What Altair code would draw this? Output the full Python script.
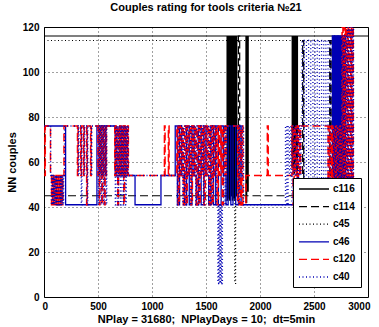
import altair as alt
import pandas as pd

# ---- data: (NPlay index, NN couple) change points, step-after ----
c116 = [(0,116),(1695,43),(1701,116),(1707,44),(1713,116),(1719,43),(1725,116),(1731,45),
        (1737,116),(1743,43),(1749,116),(1755,44),(1761,116),(1767,43),(1773,116),(1779,45),
        (1785,116),(1870,42),(1877,116),(1884,47),(1891,116),(2298,58),(2305,116),(2312,55),
        (2319,116),(2326,60),(2333,116),(2340,56),(2347,116),(3000,116)]

c114 = [(0,45),(1800,116),(1812,45),(2395,114),(2405,45),(2645,114),(2655,45),(2668,114),
        (2678,45),(2880,45)]

c45 = [(0,114),(1766,6),(1774,114),(2880,114)]

c46 = [(0,76),(200,41),(490,76),(660,54),(700,76),(715,54),(735,76),(750,54),(843,41),(1083,54),
       (1215,76),(1235,41),(1255,76),(1275,54),(1300,41),(1320,76),(1345,41),(1370,76),(1390,54),
       (1410,41),(1430,76),(1455,41),(1480,76),(1500,54),(1525,41),(1545,76),(1570,41),(1590,76),
       (1615,41),(1640,76),(1660,54),(1685,41),(1705,76),(1730,41),(1750,76),(1775,41),(1800,76),
       (1825,41),(1850,41),(2670,116),(2677,50),(2684,116),(2691,45),(2698,116),(2705,48),(2712,116),
       (2719,45),(2726,116),(2733,50),(2740,116),(2747,46),(2754,116),(2761,45),(2768,116),(2775,48),
       (2782,116),(2790,45),(2880,45)]

c120 = [(0,76),(8,54),(12,76),(60,54),(70,41),(78,54),(86,41),(94,54),(102,41),(110,54),(118,41),
        (126,54),(134,41),(142,54),(150,41),(158,54),(166,41),(174,54),(185,76),
        (310,54),(316,76),(340,54),(346,76),(366,54),(372,76),(395,41),(401,76),(432,54),(438,76),
        (500,54),(506,76),(512,41),(518,76),(524,54),(530,76),(536,41),(542,76),(548,54),(554,76),
        (560,41),(566,76),(572,54),(578,76),
        (655,54),(662,76),(669,54),(676,76),(683,41),(690,76),(697,54),(704,76),(711,54),(718,76),
        (725,54),(732,76),(739,41),(746,76),(753,54),(760,76),(767,54),(774,76),(781,54),
        (1115,76),(1121,54),(1152,76),(1158,54),
        (1230,76),(1242,41),(1254,76),(1266,54),(1278,76),(1290,41),(1302,76),(1314,41),(1326,76),
        (1338,54),(1350,76),(1362,41),(1374,76),(1386,54),(1398,76),(1410,41),(1422,76),(1434,41),
        (1446,76),(1458,54),(1470,76),(1482,41),(1494,76),(1506,54),(1518,76),(1530,41),(1542,76),
        (1554,41),(1566,76),(1578,54),(1590,76),(1602,41),(1614,76),(1626,54),(1638,76),(1650,41),
        (1662,76),(1674,54),(1686,76),
        (1794,41),(1806,76),(1818,41),(1830,76),(1842,41),(1870,54),(2068,76),(2076,54),
        (2296,76),(2306,41),(2316,76),(2326,54),(2336,76),(2346,41),(2356,76),(2366,54),(2376,76),
        (2630,41),(2640,76),(2650,45),(2660,76),(2670,41),(2680,76),(2690,45),(2700,76),(2710,41),
        (2720,76),(2730,45),(2740,76),(2750,41),(2760,120),(2768,45),(2776,120),(2784,50),(2792,120),
        (2800,45),(2808,120),(2816,41),(2824,120),(2832,45),(2840,120),(2848,41),(2856,120),(2864,45),
        (2880,45)]

c40 = [(0,76),(62,54),(68,41),(74,54),(80,41),(86,54),(92,41),(98,54),(104,41),(110,54),(116,41),
       (122,54),(128,41),(134,54),(140,41),(146,54),(152,41),(158,54),(164,41),(170,54),(176,41),
       (182,54),(190,76),
       (318,54),(324,76),(345,41),(351,76),(372,54),(378,76),(400,41),(406,76),(437,54),(443,76),
       (503,41),(509,76),(515,54),(521,76),(527,41),(533,76),(539,54),(545,76),(551,41),(557,76),
       (563,54),(569,76),(575,41),(581,76),
       (660,41),(666,76),(672,54),(678,76),(684,41),(690,76),(696,54),(702,76),(708,41),(714,76),
       (720,54),(726,76),(732,41),(738,76),(744,54),(750,76),(756,41),(762,76),(768,54),(774,76),
       (780,54),
       (1236,41),(1248,76),(1260,54),(1272,76),(1284,41),(1296,76),(1308,41),(1320,76),(1332,54),
       (1344,76),(1356,41),(1368,76),(1380,54),(1392,76),(1404,41),(1416,76),(1428,41),(1440,76),
       (1452,54),(1464,76),(1476,41),(1488,76),(1500,54),(1512,76),(1524,41),(1536,76),(1548,41),
       (1560,76),(1572,54),(1584,76),(1596,41),
       (1610,6),(1616,41),(1622,6),(1628,41),(1634,6),(1640,41),(1646,6),(1652,41),(1664,76),
       (1676,41),(1688,76),
       (1800,41),(1812,76),(1824,54),(1836,76),(1848,41),
       (2236,76),(2248,41),(2260,76),(2272,54),(2284,76),(2296,41),(2308,76),(2320,54),(2332,76),
       (2344,41),(2356,76),(2368,54),(2380,76),
       (2390,114),(2410,45),(2430,114),(2450,45),(2470,114),(2490,45),(2510,114),(2530,45),
       (2550,114),(2570,45),(2590,114),(2610,45),(2630,114),(2650,45),
       (2680,116),(2688,45),(2696,116),(2704,45),(2710,5),(2716,116),(2722,45),(2730,116),(2738,45),
       (2746,116),(2754,45),(2762,116),(2770,45),(2778,116),(2786,45),(2794,116),(2802,45),
       (2810,120),(2818,45),(2826,120),(2834,41),(2842,120),(2850,41),(2858,120),(2866,45),(2880,45)]

names = ["c116", "c114", "c45", "c46", "c120", "c40"]
series = [c116, c114, c45, c46, c120, c40]
colors = ["#000000", "#000000", "#000000", "#0000b4", "#ff0000", "#0000b4"]
dashes = [[1, 0], [8, 4], [1, 2.5], [1, 0], [8, 4], [1, 2.5]]
widths = [1.2, 1.2, 1.2, 1.3, 1.5, 1.3]
x_ticks = [0, 500, 1000, 1500, 2000, 2500, 3000]
y_ticks = [0, 20, 40, 60, 80, 100, 120]

rows = []
for name, pts in zip(names, series):
    for i, (x, y) in enumerate(pts):
        rows.append({"series": name, "x": x, "y": y, "i": i})
df = pd.DataFrame(rows)

FONT = "Liberation Sans"
color_scale = alt.Scale(domain=names, range=colors)
dash_scale = alt.Scale(domain=names, range=dashes)

legend = alt.Legend(
    title=None, orient="none", legendX=249, legendY=151,
    fillColor="white", strokeColor="black", padding=5, cornerRadius=0,
    symbolType="M-1,0H5", symbolSize=100, symbolStrokeWidth=1.3,
    labelFont=FONT, labelFontSize=10, labelFontWeight="bold", labelColor="black",
    labelOffset=23, rowPadding=6.6,
)

layers = []
for name, w in zip(names, widths):
    layers.append(
        alt.Chart(df)
        .transform_filter(alt.datum.series == name)
        .mark_line(interpolate="step-after", strokeWidth=w, clip=True)
        .encode(
            x=alt.X("x:Q", scale=alt.Scale(domain=[0, 3000], nice=False),
                    axis=alt.Axis(values=x_ticks, format="d",
                                  title="NPlay = 31680;\u00a0 NPlayDays = 10;\u00a0 dt=5min",
                                  titleFontSize=11,
                                  labelFlush=True, labelFlushOffset=2,
                                  labelOverlap=False, titlePadding=2, labelPadding=4)),
            y=alt.Y("y:Q", scale=alt.Scale(domain=[0, 120], nice=False),
                    axis=alt.Axis(values=y_ticks, format="d", title="NN couples",
                                  titleFontSize=11,
                                  labelFlush=False, labelOverlap=False, titlePadding=5,
                                  labelPadding=5)),
            color=alt.Color("series:N", scale=color_scale, legend=legend),
            strokeDash=alt.StrokeDash("series:N", scale=dash_scale, legend=legend),
            order=alt.Order("i:Q"),
        )
    )

chart = (
    alt.layer(*layers)
    .properties(
        width=324, height=270,
        title=alt.TitleParams("Couples rating for tools criteria №21", font=FONT, fontSize=11,
                              fontWeight="bold", color="black", offset=9, anchor="middle"),
        padding={"left": 44, "top": 27, "right": 11, "bottom": 30},
        autosize=alt.AutoSizeParams(type="none"),
        background="white",
    )
    .configure_view(stroke="black", strokeWidth=1)
    .configure_axis(
        labelFont=FONT, labelFontSize=10, labelFontWeight="bold", labelColor="black",
        titleFont=FONT, titleFontSize=10, titleFontWeight="bold", titleColor="black",
        grid=True, gridColor="#000000", gridDash=[1, 3], gridOpacity=0.75, gridWidth=1,
        domain=False, ticks=False,
    )
)

chart.save("out.html", embed_options={"renderer": "svg", "actions": False})
